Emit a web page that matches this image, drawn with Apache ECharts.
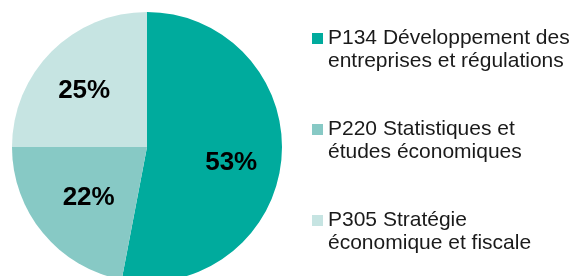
<!DOCTYPE html>
<html>
<head>
<meta charset="utf-8">
<script src="https://cdn.jsdelivr.net/npm/echarts@6/dist/echarts.min.js"></script>
<style>
  html, body { margin: 0; padding: 0; background: #fff; }
  #chart { width: 574px; height: 276px; }
</style>
</head>
<body>
<div id="chart"></div>
<script>
  // données
  var programmes = [
    "P134 Développement des\nentreprises et régulations",
    "P220 Statistiques et\nétudes économiques",
    "P305 Stratégie\néconomique et fiscale"
  ];
  var parts = [53, 22, 25];
  var couleurs = ["#00ab9d", "#87c9c5", "#c6e4e2"];
  // réglage fin des étiquettes : padding horizontal, ligne vide (+ bas / - haut)
  var labelPadding = [
    [0, 0, 0, 28],
    [0, 8, 0, 0],
    [0, 26, 0, 0]
  ];
  var labelDecalage = [19, 12, -12];

  var myChart = echarts.init(document.getElementById("chart"));

  var data = programmes.map(function (nom, i) {
    var d = labelDecalage[i];
    return {
      name: nom,
      value: parts[i],
      itemStyle: { color: couleurs[i] },
      label: {
        padding: labelPadding[i],
        lineHeight: Math.abs(d),
        formatter: d > 0 ? "\n{c}%" : "{c}%\n"
      }
    };
  });

  myChart.setOption({
    animation: false,
    legend: {
      orient: "vertical",
      left: 312,
      top: 4,
      padding: 0,
      itemGap: 22,
      itemWidth: 11,
      itemHeight: 11,
      icon: "rect",
      selectedMode: false,
      data: programmes,
      // ligne vide en tête : la 1re ligne du libellé reste en face du carré
      formatter: function (name) {
        return "\n" + name;
      },
      textStyle: {
        fontFamily: "Liberation Sans, Arial, sans-serif",
        fontSize: 21,
        lineHeight: 23,
        color: "#1a1a1a"
      }
    },
    series: [
      {
        type: "pie",
        center: [147, 147],
        radius: 135,
        startAngle: 90,
        clockwise: true,
        avoidLabelOverlap: false,
        itemStyle: { borderWidth: 0 },
        label: {
          show: true,
          position: "inside",
          fontFamily: "Liberation Sans, Arial, sans-serif",
          fontWeight: "bold",
          fontSize: 26,
          color: "#000"
        },
        labelLine: { show: false },
        emphasis: { disabled: true },
        data: data
      }
    ]
  });
</script>
</body>
</html>
